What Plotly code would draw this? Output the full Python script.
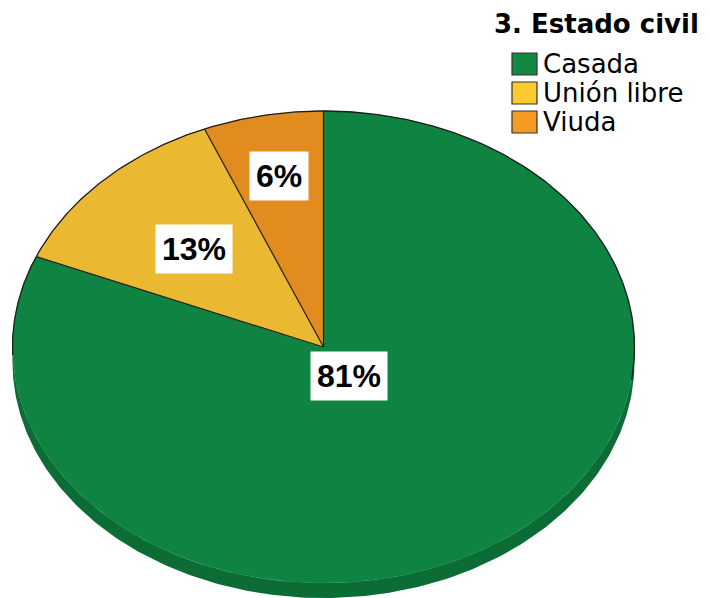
import numpy as np
import plotly.graph_objects as go

# ---- data ----
categories = ["Casada", "Unión libre", "Viuda"]
counts = [26, 4, 2]
pct_labels = ["81%", "13%", "6%"]
legend_title = "3. Estado civil"

# ---- styles ----
top_colors = ["#0F8442", "#EBB931", "#E28B1F"]
legend_colors = ["#128943", "#FDCB2E", "#F59A22"]
side_color = "#0B6C35"
edge_color = "#1E1E1E"
label_radius = [0.15, 0.59, 0.74]

W, H = 709, 598
OFF = 8  # page body margin compensation
cx, cy, rx, ry, depth = 323.5, 347.0, 311.0, 236.0, 15.0

total = float(sum(counts))
fracs = [c / total for c in counts]


def pt(t_deg, r=1.0):
    t = np.radians(t_deg)
    return cx + rx * r * np.sin(t), cy - ry * r * np.cos(t)


fig = go.Figure()

# 3D side (lower half of ellipse extruded down)
phi = np.linspace(0, np.pi, 200)
xs_top = cx + rx * np.cos(phi)
ys_top = cy + ry * np.sin(phi)
side_x = np.concatenate([xs_top, xs_top[::-1]])
side_y = np.concatenate([ys_top, ys_top[::-1] + depth])
fig.add_trace(go.Scatter(x=side_x, y=side_y, fill="toself", mode="lines",
                         line=dict(width=0, color=side_color), fillcolor=side_color,
                         hoverinfo="skip", showlegend=False))

# slices (clockwise from 12 o'clock)
start = 0.0
bounds = []
mids = []
for cat, f, col in zip(categories, fracs, top_colors):
    end = start + f * 360.0
    ts = np.linspace(start, end, max(int(f * 400), 10))
    px_, py_ = pt(ts)
    x = np.concatenate([[cx], px_, [cx]])
    y = np.concatenate([[cy], py_, [cy]])
    fig.add_trace(go.Scatter(x=x, y=y, fill="toself", mode="lines",
                             line=dict(width=0.5, color=col), fillcolor=col,
                             name=cat, hoverinfo="name", showlegend=False))
    bounds.append(start)
    mids.append((start + end) / 2)
    start = end

# outline: upper arc + radial separators
ta = np.linspace(-92, 98, 300)
ax_, ay_ = pt(ta)
fig.add_trace(go.Scatter(x=ax_, y=ay_, mode="lines", line=dict(width=1.3, color=edge_color),
                         hoverinfo="skip", showlegend=False))
for b in bounds:
    bx, by = pt(b)
    fig.add_trace(go.Scatter(x=[cx, bx], y=[cy, by], mode="lines",
                             line=dict(width=1.2, color=edge_color),
                             hoverinfo="skip", showlegend=False))

annotations = []
for lab, m, r in zip(pct_labels, mids, label_radius):
    lx, ly = pt(m, r)
    annotations.append(dict(x=lx, y=ly, xref="x", yref="y", text=lab, showarrow=False,
                            font=dict(family="Liberation Sans", size=32, color="black", weight="bold"),
                            bgcolor="white", borderpad=6, xanchor="center", yanchor="middle"))

# legend (manual)
annotations.append(dict(x=492, y=24, xref="x", yref="y", text="<b>" + legend_title + "</b>",
                        showarrow=False, xanchor="left", yanchor="middle",
                        font=dict(family="DejaVu Sans", size=26, color="black")))
shapes = []
for i, (cat, col) in enumerate(zip(categories, legend_colors)):
    y0 = 53 + i * 29
    shapes.append(dict(type="rect", xref="x", yref="y", x0=512, x1=537, y0=y0, y1=y0 + 22,
                       fillcolor=col, line=dict(color="#333333", width=1.2)))
    annotations.append(dict(x=541, y=y0 + 11, xref="x", yref="y", text=cat, showarrow=False,
                            xanchor="left", yanchor="middle",
                            font=dict(family="DejaVu Sans", size=26, color="black")))

fig.update_layout(
    width=W, height=H, margin=dict(l=0, r=0, t=0, b=0),
    paper_bgcolor="white", plot_bgcolor="white", showlegend=False,
    xaxis=dict(range=[OFF, W + OFF], visible=False, fixedrange=True),
    yaxis=dict(range=[H + OFF, OFF], visible=False, fixedrange=True),
    annotations=annotations, shapes=shapes,
)

fig.write_html("out.html")
